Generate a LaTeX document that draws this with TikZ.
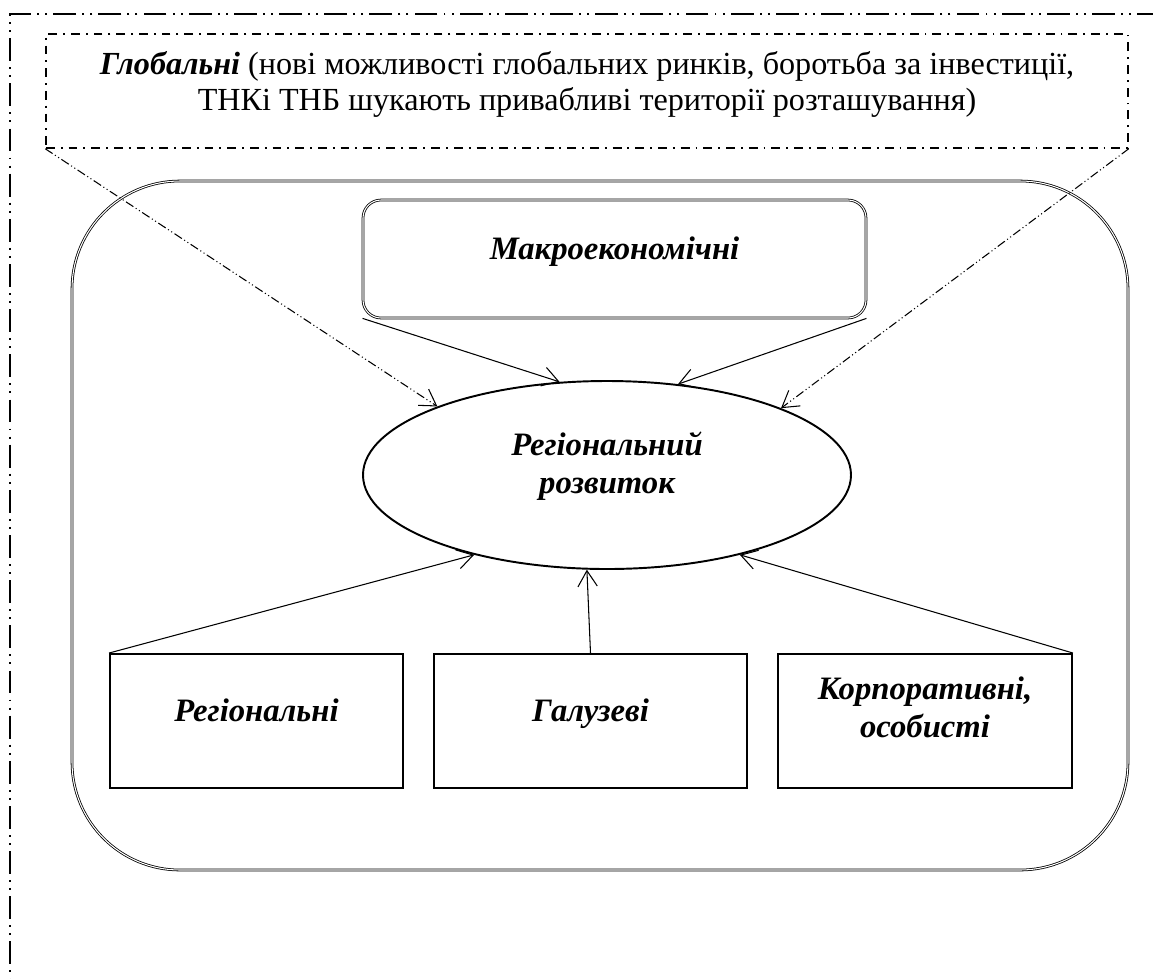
\documentclass[tikz,border=0pt]{standalone}
\usepackage{fontspec}
\setmainfont{Liberation Serif}
\usetikzlibrary{arrows.meta,shapes.geometric}

% deep strut at the end of a text block, lifts the block a little
\newcommand{\tailstrut}[1]{\rule[-#1]{0pt}{0pt}}

\tikzset{
  frameline/.style={line width=1.1pt,dash pattern=on 13pt off 3.5pt on 1.1pt off 3.5pt on 1.1pt off 3.5pt},
  globbox/.style={draw,line width=0.85pt,dash pattern=on 5pt off 3.4pt on 1.1pt off 3.4pt,
    minimum width=21.64cm,minimum height=2.28cm,align=center,font=\fontsize{18.3}{20}\selectfont},
  outerbox/.style={draw,double,line width=0.45pt,double distance=0.6pt,rounded corners=2.16cm,
    minimum width=21.12cm,minimum height=13.78cm},
  makrobox/.style={draw,double,line width=0.45pt,double distance=0.6pt,rounded corners=0.36cm,
    minimum width=10.06cm,minimum height=2.36cm,text height=0.3cm,text depth=0.3cm,
    font=\bfseries\itshape\fontsize{18.6}{21.6}\selectfont},
  devellipse/.style={draw,ellipse,line width=1.1pt,inner sep=0pt,minimum width=9.76cm,minimum height=3.76cm,
    align=center,font=\bfseries\itshape\fontsize{18.6}{21.6}\selectfont},
  factor/.style={draw,line width=1.1pt,minimum height=2.68cm,align=center,
    font=\bfseries\itshape\fontsize{18.6}{21.6}\selectfont},
  onerow/.style={text height=0.3cm,text depth=0.3cm},
  flow/.style={line width=0.6pt,-{Straight Barb[length=9pt,width=11pt]}},
  globflow/.style={flow,dash pattern=on 5pt off 1.6pt on 0.6pt off 1.6pt on 0.6pt off 1.6pt}
}

\begin{document}
\begin{tikzpicture}
  \useasboundingbox (0,0) rectangle (23.06,-19.56);
  \draw[frameline] (23.2,-0.28) -| (0.2,-19.7);

  \node[outerbox] (outer) at (12.0,-10.51){};
  \node[globbox] (glob) at (11.74,-1.82){\textbf{\textit{Глобальні}} (нові можливості глобальних ринків, боротьба за інвестиції,\\ТНКі ТНБ шукають привабливі території розташування)\tailstrut{0.4cm}};
  \node[makrobox] (makro) at (12.29,-5.18){Макроекономічні};
  \node[devellipse] (regdev) at (12.14,-9.5){Регіональний\\розвиток\tailstrut{0.48cm}};
  \node[factor,onerow,minimum width=5.86cm] (reg) at (5.13,-14.42){Регіональні};
  \node[factor,onerow,minimum width=6.26cm] (gal) at (11.81,-14.42){Галузеві};
  \node[factor,minimum width=5.88cm] (korp) at (18.5,-14.42){Корпоративні,\\особисті\tailstrut{0.54cm}};

  \draw[globflow] (glob.south west) -- (regdev.158.8);
  \draw[globflow] (glob.south east) -- (regdev.21.2);
  \draw[flow] (makro.south west) -- (regdev.117.5);
  \draw[flow] (makro.south east) -- (regdev.52.5);
  \draw[flow] (reg.north west) -- (regdev.211.5);
  \draw[flow] (gal.north) -- (regdev.258.9);
  \draw[flow] (korp.north east) -- (regdev.329.8);
\end{tikzpicture}
\end{document}
